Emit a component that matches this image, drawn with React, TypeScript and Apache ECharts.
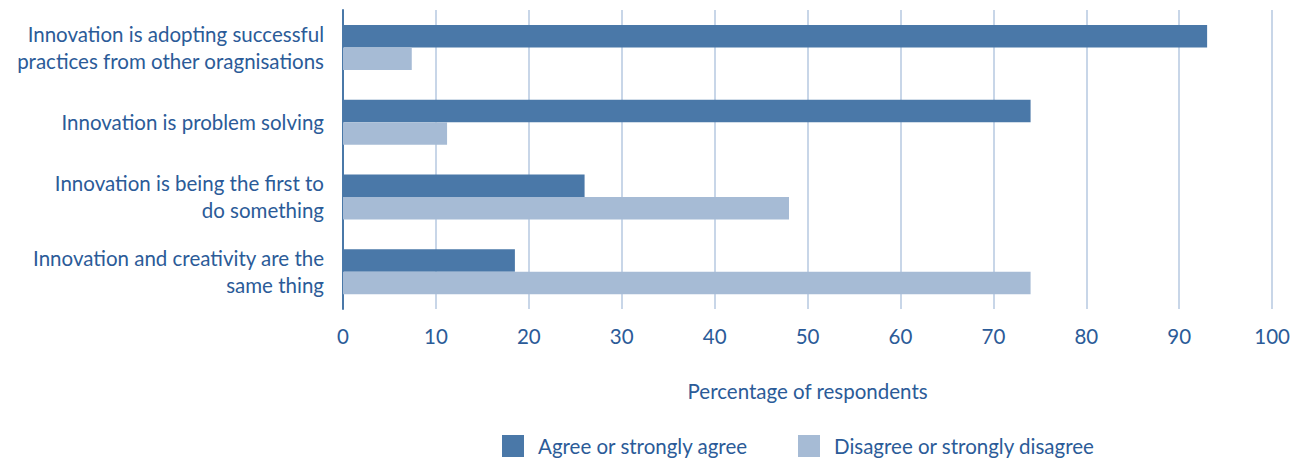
import React, { useEffect, useRef } from "react";
import * as echarts from "echarts";

const categories = [
  "Innovation is adopting successful\npractices from other oragnisations",
  "Innovation is problem solving",
  "Innovation is being the first to\ndo something",
  "Innovation and creativity are the\nsame thing",
];
const agreeValues = [93, 74, 26, 18.5];
const disagreeValues = [7.4, 11.2, 48, 74];
const xTicks = [0, 10, 20, 30, 40, 50, 60, 70, 80, 90, 100];

const TEXT = "#2b5b98";
const FONT = "Lato, 'Noto Sans', sans-serif";
const FS = 20.5;

export default function App() {
  const ref = useRef<HTMLDivElement>(null);

  useEffect(() => {
    if (!ref.current) return;
    const chart = echarts.init(ref.current, undefined, { renderer: "svg" });
    chart.setOption({
      animation: false,
      textStyle: { fontFamily: FONT, color: TEXT },
      grid: { left: 343, right: 18, top: 10, bottom: 149, containLabel: false },
      legend: {
        left: 497,
        top: 430,
        itemWidth: 22,
        itemHeight: 22,
        itemGap: 50,
        icon: "rect",
        textStyle: { fontFamily: FONT, fontSize: FS, color: TEXT, padding: [0, 0, 0, 9] },
        data: ["Agree or strongly agree", "Disagree or strongly disagree"],
      },
      xAxis: {
        type: "value",
        min: xTicks[0],
        max: xTicks[xTicks.length - 1],
        interval: 10,
        name: "Percentage of respondents",
        nameLocation: "middle",
        nameGap: 71,
        nameTextStyle: { fontFamily: FONT, fontSize: FS, color: TEXT },
        axisLine: { show: false },
        axisTick: { show: false },
        axisLabel: { fontFamily: FONT, fontSize: FS, color: TEXT, margin: 16 },
        splitLine: { show: true, lineStyle: { color: "#b6c9e0", width: 1.5 } },
      },
      yAxis: {
        type: "category",
        inverse: true,
        data: categories,
        axisLine: { show: true, lineStyle: { color: "#4a78a8", width: 2 } },
        axisTick: { show: false },
        axisLabel: {
          fontFamily: FONT,
          fontSize: FS,
          color: TEXT,
          margin: 19,
          lineHeight: 27,
          align: "right",
        },
      },
      series: [
        {
          name: "Agree or strongly agree",
          type: "bar",
          data: agreeValues,
          barWidth: 22.5,
          barGap: "0%",
          itemStyle: { color: "#4a78a8" },
        },
        {
          name: "Disagree or strongly disagree",
          type: "bar",
          data: disagreeValues,
          barWidth: 22.5,
          barGap: "0%",
          itemStyle: { color: "#a6bbd5" },
        },
      ],
    });
    return () => chart.dispose();
  }, []);

  return (
    <div
      ref={ref}
      style={{ position: "fixed", left: 0, top: 0, width: 1293, height: 458, background: "#fff" }}
    />
  );
}
